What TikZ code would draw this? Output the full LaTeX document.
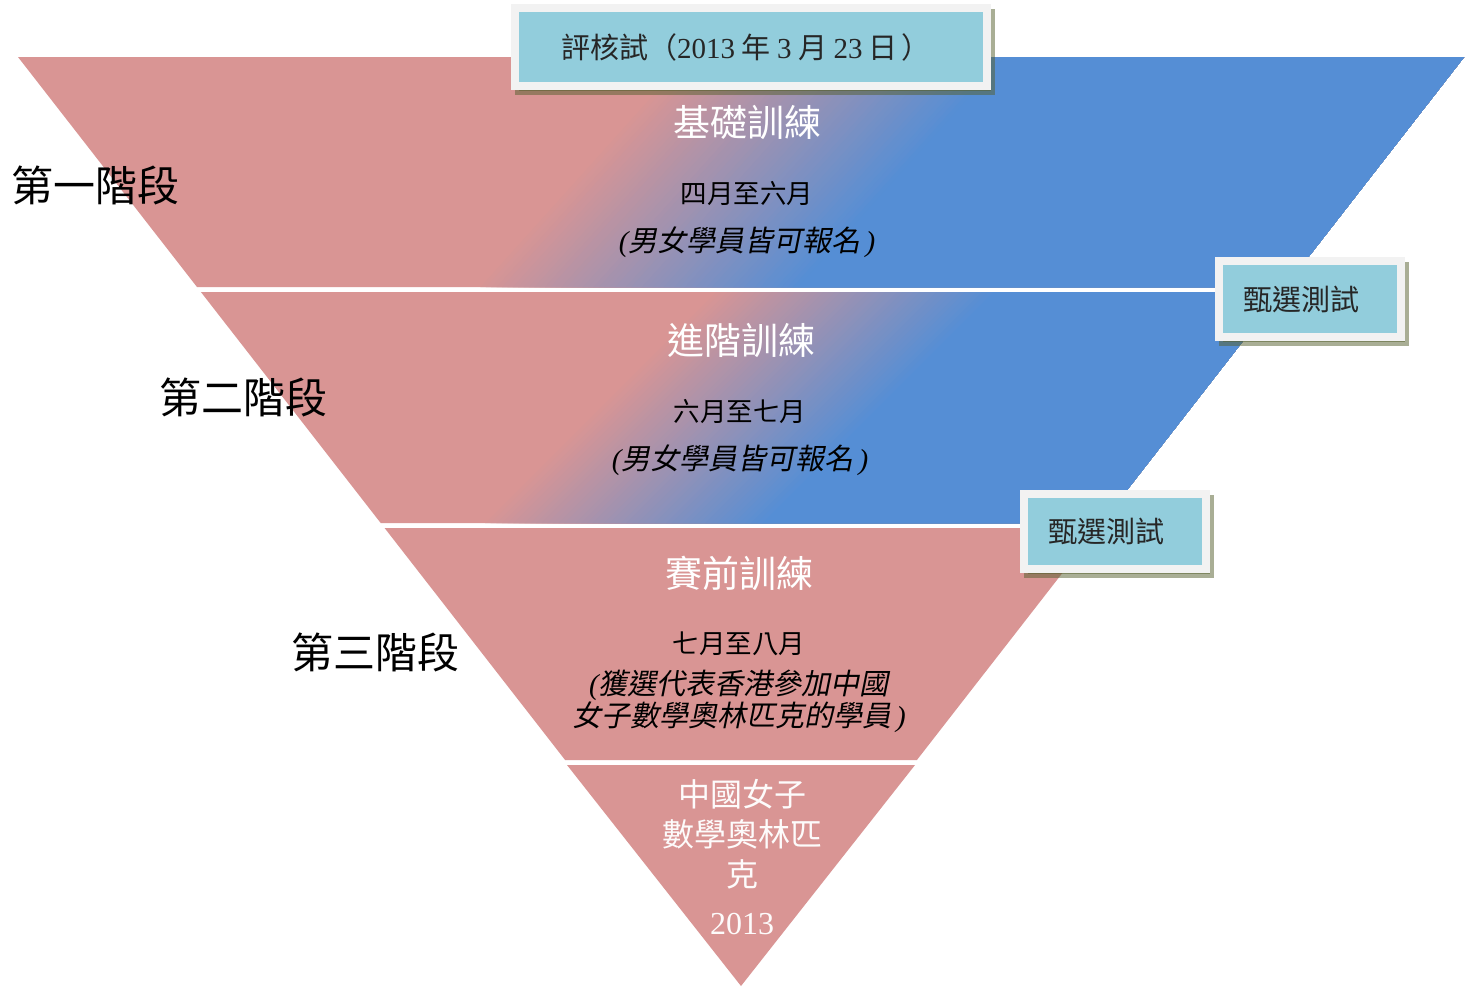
\documentclass[tikz,border=0pt]{standalone}
\usepackage{fontspec}
\setmainfont{Liberation Serif}
\newfontfamily\cjk{Noto Sans CJK TC}
\newfontfamily\cjkit[FakeSlant=0.2]{Noto Sans CJK TC}
\usetikzlibrary{shadows}
\definecolor{pinkc}{HTML}{D99594}
\definecolor{bluec}{HTML}{558ED5}
\definecolor{cyanc}{HTML}{92CDDC}
\definecolor{framec}{HTML}{F2F2F2}
\definecolor{shadowc}{RGB}{85,95,45}
\tikzset{
  boxnode/.style={draw=framec, line width=8pt, fill=cyanc, inner sep=0pt,
    font=\cjk\fontsize{29}{34}\selectfont, text=black!85,
    drop shadow={shadow xshift=4pt, shadow yshift=-5pt, fill=shadowc, draw=shadowc, line width=8pt, opacity=0.5}},
  stagelabel/.style={font=\cjk\fontsize{42}{48}\selectfont, inner sep=0pt, text=black},
  bandtitle/.style={text=white, font=\cjk\fontsize{37}{44}\selectfont, inner sep=0pt},
  months/.style={font=\cjk\fontsize{26.5}{30}\selectfont, inner sep=0pt, text=black},
  note/.style={font=\fontsize{29}{30}\selectfont, inner sep=0pt, align=center, text=black},
  finaltext/.style={text=white!96!pinkc, font=\cjk\fontsize{32}{40}\selectfont, inner sep=0pt, align=center},
}
\newcommand{\rparen}{\hspace{5pt}{\itshape)}}
\begin{document}
\begin{tikzpicture}[x=1pt, y=-1pt]
\useasboundingbox (0,0) rectangle (1472,986);
\fill[white] (0,0) rectangle (1472,986);

% band 1 (gradient)
\begin{scope}
  \clip (18,57) -- (1464,57) -- (1285,287) -- (197,287) -- cycle;
  \begin{scope}[shift={(725,189)}, rotate=-42]
    \fill[pinkc] (-1600,-1600) rectangle (1600,1600);
    \foreach \i in {1,...,60}{
      \pgfmathtruncatemacro\p{100-100*\i/60}
      \pgfmathsetmacro\u{-120+4*\i}
      \fill[pinkc!\p!bluec] (\u,-1600) rectangle (1600,1600);
    }
  \end{scope}
\end{scope}

% band 2 (gradient)
\begin{scope}
  \clip (200.9,292) -- (1281.1,292) -- (1101.3,523) -- (380.7,523) -- cycle;
  \begin{scope}[shift={(734,410)}, rotate=-45]
    \fill[pinkc] (-1600,-1600) rectangle (1600,1600);
    \foreach \i in {1,...,50}{
      \pgfmathtruncatemacro\p{100-2*\i}
      \pgfmathsetmacro\u{-100+4*\i}
      \fill[pinkc!\p!bluec] (\u,-1600) rectangle (1600,1600);
    }
  \end{scope}
\end{scope}

% band 3 and apex triangle
\fill[pinkc] (384.6,528) -- (1097.4,528) -- (916.9,760) -- (565.1,760) -- cycle;
\fill[pinkc] (567,765) -- (915,765) -- (741,986) -- cycle;

% band texts
\node[bandtitle] (t1) at (747,122) {基礎訓練};
\node[months] (m1) at (747,194) {四月至六月};
\node[note] (n1) at (747,242) {{\itshape(}{\cjkit 男女學員皆可報名}\rparen};

\node[bandtitle] (t2) at (741,340) {進階訓練};
\node[months] (m2) at (740,412) {六月至七月};
\node[note] (n2) at (740,460) {{\itshape(}{\cjkit 男女學員皆可報名}\rparen};

\node[bandtitle] (t3) at (739,573) {賽前訓練};
\node[months] (m3) at (739,644) {七月至八月};
\node[note] (n3) at (739,701) {{\itshape(}{\cjkit 獲選代表香港參加中國}\\{\cjkit 女子數學奧林匹克的學員}\rparen};

\node[finaltext, anchor=north] (t4) at (742,779) {中國女子\\數學奧林匹\\克\\[8pt]{\rmfamily 2013}};

% stage labels
\node[stagelabel] (s1) at (95,185) {第一階段};
\node[stagelabel] (s2) at (243,397) {第二階段};
\node[stagelabel] (s3) at (375,652) {第三階段};

% boxes
\node[boxnode, minimum width=472pt, minimum height=78pt] (assess) at (751,47)
  {\hspace*{-10pt}評核試（{\rmfamily 2013} 年 {\rmfamily 3} 月 {\rmfamily 23} 日\hspace{4pt}）};
\node[boxnode, minimum width=182pt, minimum height=76pt] (sel1) at (1310,299)
  {\hspace*{-18pt}甄選測試};
\node[boxnode, minimum width=182pt, minimum height=75pt] (sel2) at (1115,531.5)
  {\hspace*{-18pt}甄選測試};
\end{tikzpicture}
\end{document}
